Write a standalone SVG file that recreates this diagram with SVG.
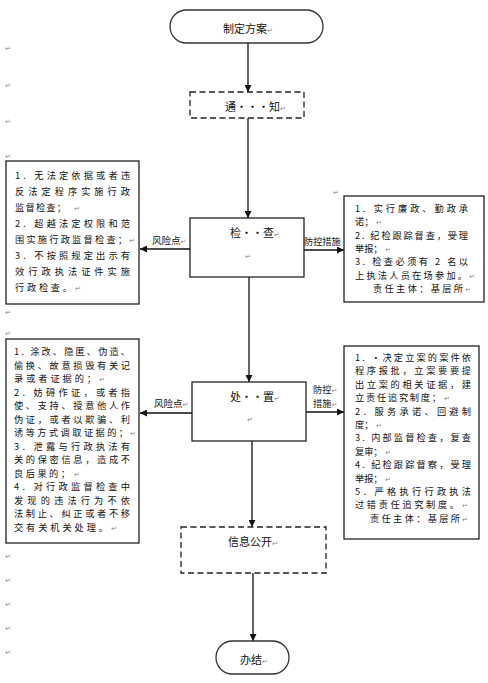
<svg xmlns="http://www.w3.org/2000/svg" width="488" height="683" viewBox="0 0 488 683">
<style>
text{font-family:"Noto Sans CJK SC","Liberation Sans",sans-serif;font-size:9.2px;fill:#111;}
.t{font-size:11px;}
.lb{font-size:9.5px;}
.pm{font-family:"DejaVu Sans",sans-serif;font-size:7px;fill:#888;}
.box{fill:#fff;stroke:#222;stroke-width:1.3;}
.dash{fill:#fff;stroke:#222;stroke-width:1.3;stroke-dasharray:6,3.5;}
.term{fill:#fff;stroke:#333;stroke-width:1.3;}
.ln{fill:none;stroke:#111;stroke-width:1.3;marker-end:url(#ah);}
</style>
<defs>
<marker id="ah" viewBox="0 0 10 10" refX="10" refY="5" markerWidth="7" markerHeight="7" markerUnits="userSpaceOnUse" orient="auto">
<path d="M0,0 L10,5 L0,10 z" fill="#111"/>
</marker>
</defs>
<rect width="488" height="683" fill="#fff"/>

<g id="margin-marks">
<text class="pm" x="5" y="51">↵</text>
<text class="pm" x="5" y="88">↵</text>
<text class="pm" x="5" y="124">↵</text>
<text class="pm" x="5" y="159">↵</text>
<text class="pm" x="5" y="315">↵</text>
<text class="pm" x="5" y="336">↵</text>
<text class="pm" x="5" y="559">↵</text>
<text class="pm" x="5" y="583">↵</text>
<text class="pm" x="5" y="607">↵</text>
<text class="pm" x="5" y="631">↵</text>
<text class="pm" x="5" y="655">↵</text>
<text class="pm" x="333" y="195">↵</text>
</g>

<g id="connectors">
<line class="ln" x1="248" y1="43" x2="248" y2="92"/>
<line class="ln" x1="248" y1="118" x2="248" y2="218"/>
<line class="ln" x1="190" y1="249" x2="140" y2="249"/>
<line class="ln" x1="304" y1="250" x2="344" y2="250"/>
<line class="ln" x1="249" y1="277" x2="249" y2="382"/>
<line class="ln" x1="192" y1="413" x2="140" y2="413"/>
<line class="ln" x1="306" y1="412" x2="344" y2="412"/>
<line class="ln" x1="252" y1="441" x2="252" y2="527"/>
<line class="ln" x1="253" y1="573" x2="253" y2="641"/>
<text class="lb" x="152" y="244">风险点<tspan class="pm">↵</tspan></text>
<text x="304" y="245">防控措施</text>
<text class="lb" x="154" y="407">风险点<tspan class="pm">↵</tspan></text>
<text x="313" y="393">防控<tspan class="pm">↵</tspan></text>
<text x="313" y="407">措施<tspan class="pm">↵</tspan></text>
</g>

<g id="start">
<rect class="term" x="170" y="10" width="153" height="33" rx="16.5"/>
<text class="t" x="223" y="33">制定方案<tspan class="pm">↵</tspan></text>
</g>

<g id="notify">
<rect class="dash" x="190" y="92" width="114" height="26"/>
<text class="t" x="225" y="111">通···知<tspan class="pm">↵</tspan></text>
</g>

<g id="inspect">
<rect class="box" x="190" y="218" width="114" height="59"/>
<text class="t" x="230" y="237">检··查<tspan class="pm">↵</tspan></text>
<text class="pm" x="245" y="259">↵</text>
</g>

<g id="risk1">
<rect class="box" x="6" y="161" width="133" height="143"/>
<text x="15" y="179" textLength="115" lengthAdjust="spacing">1. 无法定依据或者违</text>
<text x="15" y="195" textLength="115" lengthAdjust="spacing">反法定程序实施行政</text>
<text x="15" y="211" textLength="51" lengthAdjust="spacing">监督检查；</text><text class="pm" x="74" y="211">↵</text>
<text x="15" y="227" textLength="115" lengthAdjust="spacing">2. 超越法定权限和范</text>
<text x="15" y="243" textLength="112" lengthAdjust="spacing">围实施行政监督检查；</text><text class="pm" x="129" y="243">↵</text>
<text x="15" y="259" textLength="115" lengthAdjust="spacing">3. 不按照规定出示有</text>
<text x="15" y="275" textLength="115" lengthAdjust="spacing">效行政执法证件实施</text>
<text x="15" y="291" textLength="57" lengthAdjust="spacing">行政检查。</text><text class="pm" x="75" y="291">↵</text>
</g>

<g id="measures1">
<rect class="box" x="344" y="196" width="140" height="106"/>
<text x="355" y="212" textLength="113" lengthAdjust="spacing">1. 实行廉政、勤政承</text>
<text x="355" y="225.3">诺；</text><text class="pm" x="376" y="225.3">↵</text>
<text x="355" y="238.6" textLength="113" lengthAdjust="spacing">2. 纪检跟踪督查，受理</text>
<text x="355" y="252">举报；</text><text class="pm" x="385" y="252">↵</text>
<text x="355" y="265.3" textLength="113" lengthAdjust="spacing">3. 检查必须有 2 名以</text>
<text x="355" y="278.6" textLength="112" lengthAdjust="spacing">上执法人员在场参加。</text><text class="pm" x="469" y="278.6">↵</text>
<text x="373" y="292" textLength="90" lengthAdjust="spacing">责任主体：基层所</text><text class="pm" x="465" y="292">↵</text>
</g>

<g id="dispose">
<rect class="box" x="192" y="382" width="114" height="59"/>
<text class="t" x="230" y="401">处··置<tspan class="pm">↵</tspan></text>
<text class="pm" x="247" y="422">↵</text>
</g>

<g id="risk2">
<rect class="box" x="6" y="339" width="133" height="204"/>
<text x="14" y="355" textLength="116" lengthAdjust="spacing">1. 涂改、隐匿、伪造、</text>
<text x="14" y="368.5" textLength="116" lengthAdjust="spacing">偷换、故意损毁有关记</text>
<text x="14" y="382" textLength="82" lengthAdjust="spacing">录或者证据的；</text><text class="pm" x="99" y="382">↵</text>
<text x="14" y="395.5" textLength="116" lengthAdjust="spacing">2. 妨碍作证，或者指</text>
<text x="14" y="409" textLength="116" lengthAdjust="spacing">使、支持、授意他人作</text>
<text x="14" y="422.5" textLength="116" lengthAdjust="spacing">伪证，或者以欺骗、利</text>
<text x="14" y="436" textLength="114" lengthAdjust="spacing">诱等方式调取证据的；</text><text class="pm" x="130" y="436">↵</text>
<text x="14" y="449.5" textLength="116" lengthAdjust="spacing">3. 泄露与行政执法有</text>
<text x="14" y="463" textLength="116" lengthAdjust="spacing">关的保密信息，造成不</text>
<text x="14" y="476.5" textLength="56" lengthAdjust="spacing">良后果的；</text><text class="pm" x="74" y="476.5">↵</text>
<text x="14" y="490" textLength="116" lengthAdjust="spacing">4. 对行政监督检查中</text>
<text x="14" y="503.5" textLength="116" lengthAdjust="spacing">发现的违法行为不依</text>
<text x="14" y="517" textLength="116" lengthAdjust="spacing">法制止、纠正或者不移</text>
<text x="14" y="530.5" textLength="94" lengthAdjust="spacing">交有关机关处理。</text><text class="pm" x="111" y="530.5">↵</text>
</g>

<g id="measures2">
<rect class="box" x="344" y="346" width="135" height="193"/>
<text x="355" y="361" textLength="116" lengthAdjust="spacing">1. ·决定立案的案件依</text>
<text x="355" y="374.4" textLength="116" lengthAdjust="spacing">程序报批，立案要要提</text>
<text x="355" y="387.8" textLength="116" lengthAdjust="spacing">出立案的相关证据，建</text>
<text x="355" y="401.2" textLength="86" lengthAdjust="spacing">立责任追究制度；</text><text class="pm" x="444" y="401.2">↵</text>
<text x="355" y="414.6" textLength="116" lengthAdjust="spacing">2. 服务承诺、回避制</text>
<text x="355" y="428">度；</text><text class="pm" x="376" y="428">↵</text>
<text x="355" y="441.4" textLength="116" lengthAdjust="spacing">3. 内部监督检查，复查</text>
<text x="355" y="454.8">复审；</text><text class="pm" x="385" y="454.8">↵</text>
<text x="355" y="468.2" textLength="116" lengthAdjust="spacing">4. 纪检跟踪督察，受理</text>
<text x="355" y="481.6">举报；</text><text class="pm" x="385" y="481.6">↵</text>
<text x="355" y="495" textLength="116" lengthAdjust="spacing">5. 严格执行行政执法</text>
<text x="355" y="508.4" textLength="104" lengthAdjust="spacing">过错责任追究制度。</text><text class="pm" x="462" y="508.4">↵</text>
<text x="370" y="521.8" textLength="90" lengthAdjust="spacing">责任主体：基层所</text><text class="pm" x="462" y="521.8">↵</text>
</g>

<g id="publicity">
<rect class="dash" x="181" y="527" width="145" height="46"/>
<text class="t" x="228" y="546">信息公开<tspan class="pm">↵</tspan></text>
</g>

<g id="end">
<rect class="term" x="216" y="641" width="73" height="33" rx="16.5"/>
<text class="t" x="240" y="664">办结<tspan class="pm">↵</tspan></text>
</g>
</svg>
